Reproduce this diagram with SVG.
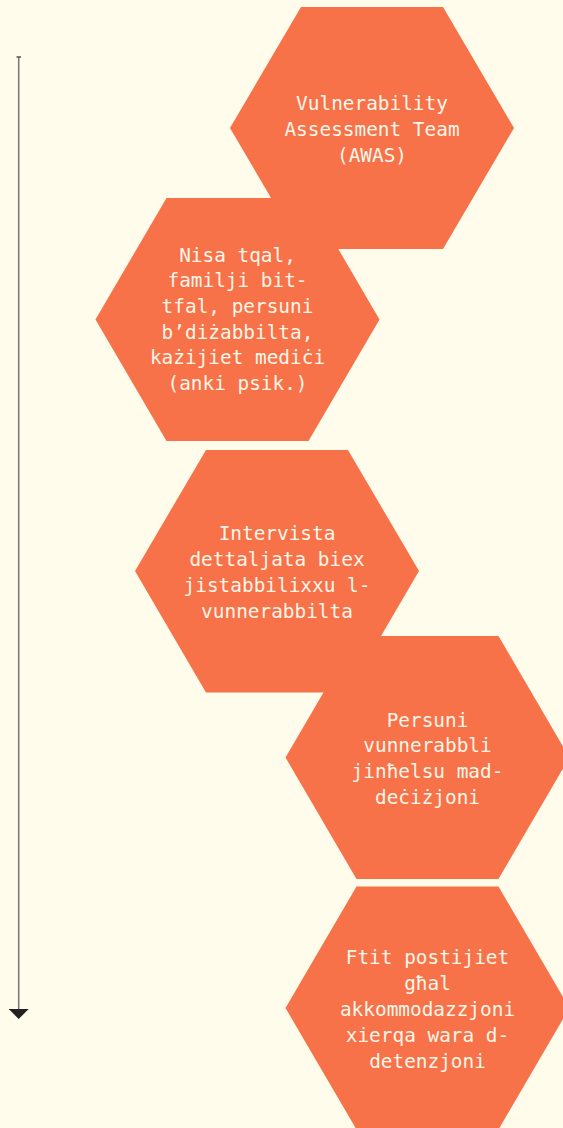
<svg xmlns="http://www.w3.org/2000/svg" width="563" height="1128" viewBox="0 0 563 1128">
<style>
.bg{fill:#FFFCEB}
.hex{fill:#F77149}
.t{font-family:"DejaVu Sans Mono","Liberation Mono",monospace;font-size:19.4px;fill:#FFF6E8;text-anchor:middle}
.axis{stroke:#777;stroke-width:1.5;fill:none}
</style>
<defs>
<marker id="ah" viewBox="0 0 10 20" refX="1" refY="10" markerWidth="10" markerHeight="20" markerUnits="userSpaceOnUse" orient="auto">
<path d="M0,0 L10,10 L0,20 Z" fill="#222"/>
</marker>
</defs>
<rect class="bg" x="0" y="0" width="563" height="1128"/>
<g id="connectors">
<line class="axis" x1="18.7" y1="57" x2="18.7" y2="1010" marker-end="url(#ah)"/>
<line x1="16.5" y1="57" x2="21" y2="57" stroke="#555" stroke-width="1.5"/>
</g>
<g id="n1">
<polygon class="hex" points="301,7 443,7 514,128 443,249 301,249 230,128"/>
<text class="t" x="372" y="109.5"><tspan x="372">Vulnerability</tspan><tspan x="372" dy="26">Assessment Team</tspan><tspan x="372" dy="26">(AWAS)</tspan></text>
</g>
<g id="n2">
<polygon class="hex" points="166.5,198 308.5,198 379.5,319.5 308.5,441 166.5,441 95.5,319.5"/>
<text class="t" x="237.5" y="261.5"><tspan x="237.5">Nisa tqal,</tspan><tspan x="237.5" dy="25.7">familji bit-</tspan><tspan x="237.5" dy="25.7">tfal, persuni</tspan><tspan x="237.5" dy="25.7">b’diżabbilta,</tspan><tspan x="237.5" dy="25.7">każijiet mediċi</tspan><tspan x="237.5" dy="25.7">(anki psik.)</tspan></text>
</g>
<g id="n3">
<polygon class="hex" points="206,450 348,450 419,571 348,692.5 206,692.5 135,571"/>
<text class="t" x="277" y="539.5"><tspan x="277">Intervista</tspan><tspan x="277" dy="26">dettaljata biex</tspan><tspan x="277" dy="26">jistabbilixxu l-</tspan><tspan x="277" dy="26">vunnerabbilta</tspan></text>
</g>
<g id="n4">
<polygon class="hex" points="356.5,636 498.5,636 569.5,757.5 498.5,879 356.5,879 285.5,757.5"/>
<text class="t" x="427.5" y="726.5"><tspan x="427.5">Persuni</tspan><tspan x="427.5" dy="25.7">vunnerabbli</tspan><tspan x="427.5" dy="25.7">jinħelsu mad-</tspan><tspan x="427.5" dy="25.7">deċiżjoni</tspan></text>
</g>
<g id="n5">
<polygon class="hex" points="356.5,886.5 498.5,886.5 569.5,1008 498.5,1129.5 356.5,1129.5 285.5,1008"/>
<text class="t" x="427.5" y="963.5"><tspan x="427.5">Ftit postijiet</tspan><tspan x="427.5" dy="26">għal</tspan><tspan x="427.5" dy="26">akkommodazzjoni</tspan><tspan x="427.5" dy="26">xierqa wara d-</tspan><tspan x="427.5" dy="26">detenzjoni</tspan></text>
</g>
</svg>
